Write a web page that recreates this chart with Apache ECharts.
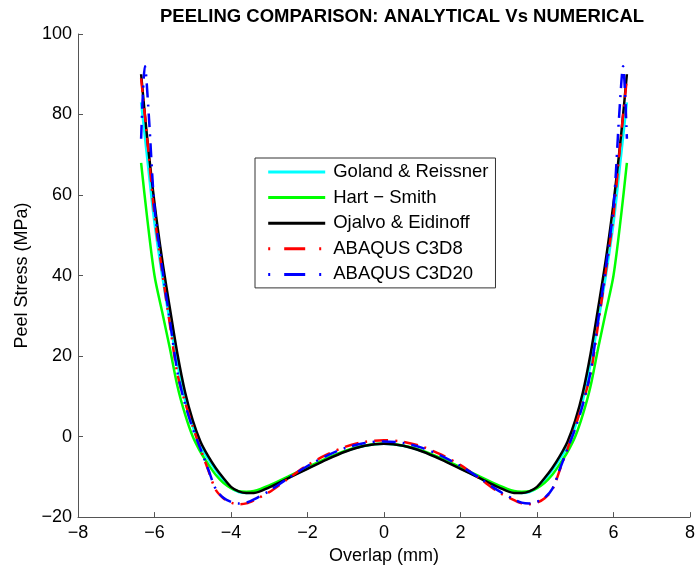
<!DOCTYPE html>
<html><head><meta charset="utf-8">
<script src="https://cdn.jsdelivr.net/npm/echarts@6/dist/echarts.min.js"></script>
<style>html,body{margin:0;padding:0;background:#fff}#c{width:698px;height:570px}</style>
</head><body><div id="c"></div>
<script>
const chartTitle = 'PEELING COMPARISON: ANALYTICAL Vs NUMERICAL';
const xAxisName = 'Overlap (mm)';
const yAxisName = 'Peel Stress (MPa)';
const seriesNames = ['Goland & Reissner', 'Hart \u2212 Smith', 'Ojalvo & Eidinoff', 'ABAQUS C3D8', 'ABAQUS C3D20'];
const seriesColors = ['#00FFFF', '#00FF00', '#000000', '#FF0000', '#0000FF'];

const xAnalytical = [-6.35,-6.2,-6.0,-5.8,-5.6,-5.4,-5.2,-5.0,-4.8,-4.6,-4.4,-4.2,-4.0,-3.8,-3.6,-3.4,-3.0,-2.5,-2.0,-1.5,-1.0,-0.5,0,
  0.5,1.0,1.5,2.0,2.5,3.0,3.4,3.6,3.8,4.0,4.2,4.4,4.6,4.8,5.0,5.2,5.4,5.6,5.8,6.0,6.2,6.35];
const golandReissner = [83,70,53,40,28.5,18,9,2.5,-2.5,-5.5,-8.3,-10.8,-12.8,-13.8,-14,-13.9,-12.5,-10.2,-7.9,-5.6,-3.6,-2.3,-1.8,
  -2.3,-3.6,-5.6,-7.9,-10.2,-12.5,-13.9,-14,-13.8,-12.8,-10.8,-8.3,-5.5,-2.5,2.5,9,18,28.5,40,53,70,83];
const hartSmith = [68,55,40,31,22,12.5,5.5,0,-3.8,-6.8,-9.5,-11.5,-12.8,-13.6,-13.7,-13.5,-12.1,-9.9,-7.6,-5.4,-3.5,-2.2,-1.7,
  -2.2,-3.5,-5.4,-7.6,-9.9,-12.1,-13.5,-13.7,-13.6,-12.8,-11.5,-9.5,-6.8,-3.8,0,5.5,12.5,22,31,40,55,68];
const ojalvoEidinoff = [90,75,58,44,32,20.5,11,4,-1.2,-4.8,-7.8,-10.3,-12.5,-13.6,-14,-14,-12.6,-10.3,-8,-5.7,-3.7,-2.3,-1.8,
  -2.3,-3.7,-5.7,-8,-10.3,-12.6,-14,-14,-13.6,-12.5,-10.3,-7.8,-4.8,-1.2,4,11,20.5,32,44,58,75,90];

const xC3D8 = [-6.35,-6.2,-6.0,-5.8,-5.6,-5.4,-5.2,-5.0,-4.8,-4.6,-4.4,-4.2,-4.0,-3.8,-3.6,-3.4,-3.0,-2.5,-2.0,-1.5,-1.0,-0.5,0,
  0.5,1.0,1.5,2.0,2.5,3.0,3.4,3.6,3.8,4.0,4.2,4.4,4.6,4.8,5.0,5.2,5.4,5.6,5.8,6.0,6.2,6.35];
const abaqusC3D8 = [89,75,55,41,28,15.5,8.5,2.5,-3,-8.2,-13.2,-15.3,-16.4,-16.8,-16.6,-15.8,-13.8,-10.4,-7.1,-4.5,-2.5,-1.3,-0.9,
  -1.3,-2.5,-4.5,-7.1,-10.4,-13.8,-15.8,-16.6,-16.8,-16.4,-15.3,-13.2,-8.2,-3,2.5,8.5,15.5,28,41,55,75,89];

const xC3D20 = [-6.35,-6.25,-6.15,-6.0,-5.8,-5.6,-5.4,-5.2,-5.0,-4.8,-4.6,-4.4,-4.2,-4.0,-3.8,-3.6,-3.4,-3.0,-2.5,-2.0,-1.5,-1.0,-0.5,0,
  0.5,1.0,1.5,2.0,2.5,3.0,3.4,3.6,3.8,4.0,4.2,4.4,4.6,4.8,5.0,5.2,5.4,5.6,5.8,6.0,6.15,6.25,6.35];
const abaqusC3D20 = [74,92,80,57,42,29,16,8,2,-3,-8,-13,-15.2,-16.2,-16.6,-16.4,-15.6,-13.5,-10.3,-7.3,-4.8,-2.8,-1.6,-1.2,
  -1.6,-2.8,-4.8,-7.3,-10.3,-13.5,-15.6,-16.4,-16.6,-16.2,-15.2,-13,-8,-3,2,8,16,29,42,57,80,92,74];

const xTickMin = -8, xTickMax = 8, xTickStep = 2;
const yTickMin = -20, yTickMax = 100, yTickStep = 20;

const FONT = '"Liberation Sans", Arial, Helvetica, sans-serif';
const pairs = (xs, ys) => xs.map((x, i) => [x, ys[i]]);
const minus = v => String(v).replace('-', '\u2212');

const dataSets = [
  pairs(xAnalytical, golandReissner),
  pairs(xAnalytical, hartSmith),
  pairs(xAnalytical, ojalvoEidinoff),
  pairs(xC3D8, abaqusC3D8),
  pairs(xC3D20, abaqusC3D20)
];
const dashPatterns = ['solid', 'solid', 'solid', [14, 7, 2, 7], [14, 7, 2, 7]];
const legendDash = [21, 14, 2, 14];

const chart = echarts.init(document.getElementById('c'), null, {renderer: 'canvas'});
const axisColor = '#555';
chart.setOption({
  animation: false,
  backgroundColor: '#fff',
  graphic: [{
    type: 'text', x: 402, y: 17,
    style: {text: chartTitle, textAlign: 'center', textVerticalAlign: 'middle',
      font: 'bold 18.5px ' + FONT, fill: '#000'}
  }],
  grid: {left: 78, right: 4.7, top: 34, bottom: 51.3, containLabel: false},
  legend: {
    orient: 'vertical', left: 255, top: 158,
    padding: [4.5, 7, 4, 11.7],
    itemWidth: 57, itemHeight: 18, itemGap: 6.6,
    backgroundColor: '#fff', borderColor: '#333', borderWidth: 1,
    itemStyle: {opacity: 0},
    lineStyle: {width: 3},
    textStyle: {fontSize: 18.5, fontFamily: FONT, color: '#000', lineHeight: 18, padding: [0, 0, 0, 3]},
    data: seriesNames.map((name, i) => i < 3 ? {name: name} :
      {name: name, lineStyle: {width: 3, type: legendDash, dashOffset: 35}})
  },
  xAxis: {
    type: 'value', min: xTickMin, max: xTickMax, interval: xTickStep,
    name: xAxisName, nameLocation: 'middle', nameGap: 27,
    nameTextStyle: {fontSize: 18, fontFamily: FONT, color: '#000'},
    axisLine: {show: true, onZero: false, lineStyle: {color: axisColor, width: 1}},
    axisTick: {show: true, inside: true, length: 5, lineStyle: {color: axisColor}},
    axisLabel: {fontSize: 18, fontFamily: FONT, color: '#000', margin: 7, formatter: minus},
    splitLine: {show: false}
  },
  yAxis: {
    type: 'value', min: yTickMin, max: yTickMax, interval: yTickStep,
    name: yAxisName, nameLocation: 'middle', nameGap: 47, nameRotate: 90,
    nameTextStyle: {fontSize: 18, fontFamily: FONT, color: '#000'},
    axisLine: {show: true, onZero: false, lineStyle: {color: axisColor, width: 1}},
    axisTick: {show: true, inside: true, length: 5, lineStyle: {color: axisColor}},
    axisLabel: {fontSize: 18, fontFamily: FONT, color: '#000', margin: 6, formatter: minus},
    splitLine: {show: false}
  },
  series: seriesNames.map((name, i) => ({
    name: name, type: 'line', data: dataSets[i],
    symbol: 'none', smooth: 0.3, clip: false,
    lineStyle: {color: seriesColors[i], width: 2.5, type: dashPatterns[i]},
    itemStyle: {color: seriesColors[i]},
    z: 2 + i
  }))
});
</script></body></html>
